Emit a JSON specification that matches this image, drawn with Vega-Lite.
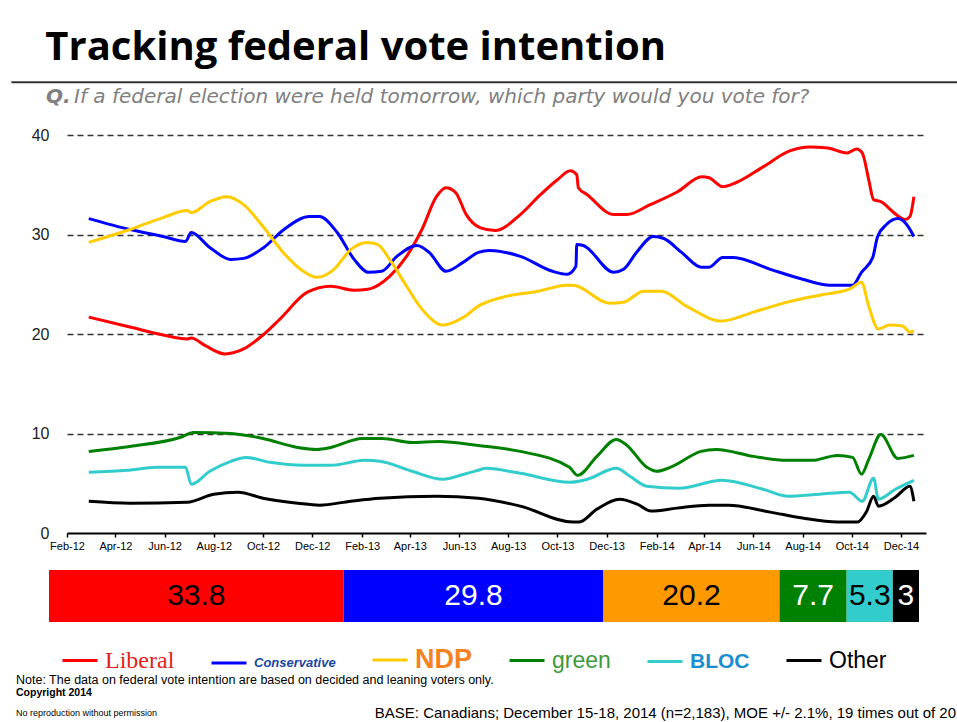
{
  "$schema": "https://vega.github.io/schema/vega-lite/v6.json",
  "background": "white",
  "padding": {"left": 10, "top": 28, "right": 0, "bottom": 0},
  "title": {"text": "Tracking federal vote intention", "anchor": "start", "font": "Open Sans", "fontSize": 40, "fontWeight": "bold", "color": "#000000", "dx": 35, "offset": 13},
  "spacing": 19,
  "resolve": {"scale": {"color": "independent"}, "legend": {"color": "independent"}},
  "config": {"view": {"stroke": null}, "font": "Liberation Sans"},
  "datasets": {
    "lines": [
      {"d":"2012-02-28","p":"Liberal","v":21.7},{"d":"2012-04-19","p":"Liberal","v":20.7},{"d":"2012-05-30","p":"Liberal","v":19.9},{"d":"2012-06-29","p":"Liberal","v":19.5},{"d":"2012-07-04","p":"Liberal","v":19.6},{"d":"2012-07-22","p":"Liberal","v":18.8},{"d":"2012-08-15","p":"Liberal","v":18.0},{"d":"2012-09-07","p":"Liberal","v":18.5},{"d":"2012-10-01","p":"Liberal","v":19.9},{"d":"2012-10-22","p":"Liberal","v":21.5},{"d":"2012-11-25","p":"Liberal","v":24.2},{"d":"2012-12-24","p":"Liberal","v":24.8},{"d":"2013-01-22","p":"Liberal","v":24.4},{"d":"2013-02-08","p":"Liberal","v":24.5},{"d":"2013-03-07","p":"Liberal","v":25.8},{"d":"2013-03-28","p":"Liberal","v":27.8},{"d":"2013-04-16","p":"Liberal","v":30.5},{"d":"2013-05-04","p":"Liberal","v":33.8},{"d":"2013-05-16","p":"Liberal","v":34.7},{"d":"2013-05-28","p":"Liberal","v":34.2},{"d":"2013-06-10","p":"Liberal","v":32.0},{"d":"2013-06-27","p":"Liberal","v":30.7},{"d":"2013-07-16","p":"Liberal","v":30.4},{"d":"2013-08-16","p":"Liberal","v":32.0},{"d":"2013-09-10","p":"Liberal","v":34.0},{"d":"2013-10-01","p":"Liberal","v":35.5},{"d":"2013-10-17","p":"Liberal","v":36.4},{"d":"2013-10-25","p":"Liberal","v":36.0},{"d":"2013-10-27","p":"Liberal","v":34.7},{"d":"2013-11-07","p":"Liberal","v":34.0},{"d":"2013-12-10","p":"Liberal","v":32.0},{"d":"2013-12-26","p":"Liberal","v":32.0},{"d":"2014-01-24","p":"Liberal","v":33.0},{"d":"2014-02-27","p":"Liberal","v":34.3},{"d":"2014-03-29","p":"Liberal","v":35.8},{"d":"2014-04-07","p":"Liberal","v":35.7},{"d":"2014-04-24","p":"Liberal","v":34.8},{"d":"2014-05-10","p":"Liberal","v":35.2},{"d":"2014-06-13","p":"Liberal","v":36.8},{"d":"2014-07-16","p":"Liberal","v":38.4},{"d":"2014-08-10","p":"Liberal","v":38.8},{"d":"2014-09-01","p":"Liberal","v":38.7},{"d":"2014-09-25","p":"Liberal","v":38.2},{"d":"2014-10-07","p":"Liberal","v":38.6},{"d":"2014-10-14","p":"Liberal","v":38.2},{"d":"2014-10-22","p":"Liberal","v":35.5},{"d":"2014-10-28","p":"Liberal","v":33.5},{"d":"2014-11-06","p":"Liberal","v":33.3},{"d":"2014-11-25","p":"Liberal","v":32.0},{"d":"2014-12-06","p":"Liberal","v":31.5},{"d":"2014-12-12","p":"Liberal","v":31.8},{"d":"2014-12-17","p":"Liberal","v":33.8},
      {"d":"2012-02-28","p":"Conservative","v":31.6},{"d":"2012-04-19","p":"Conservative","v":30.5},{"d":"2012-05-30","p":"Conservative","v":29.8},{"d":"2012-06-27","p":"Conservative","v":29.3},{"d":"2012-07-04","p":"Conservative","v":30.2},{"d":"2012-07-27","p":"Conservative","v":28.7},{"d":"2012-08-22","p":"Conservative","v":27.5},{"d":"2012-09-07","p":"Conservative","v":27.6},{"d":"2012-10-02","p":"Conservative","v":28.7},{"d":"2012-10-27","p":"Conservative","v":30.5},{"d":"2012-11-28","p":"Conservative","v":31.8},{"d":"2012-12-10","p":"Conservative","v":31.8},{"d":"2013-01-01","p":"Conservative","v":30.2},{"d":"2013-01-22","p":"Conservative","v":27.5},{"d":"2013-02-09","p":"Conservative","v":26.2},{"d":"2013-02-25","p":"Conservative","v":26.3},{"d":"2013-03-16","p":"Conservative","v":27.8},{"d":"2013-04-10","p":"Conservative","v":28.9},{"d":"2013-04-25","p":"Conservative","v":28.2},{"d":"2013-05-16","p":"Conservative","v":26.3},{"d":"2013-06-06","p":"Conservative","v":27.2},{"d":"2013-06-25","p":"Conservative","v":28.2},{"d":"2013-07-09","p":"Conservative","v":28.4},{"d":"2013-08-16","p":"Conservative","v":27.8},{"d":"2013-09-25","p":"Conservative","v":26.3},{"d":"2013-10-13","p":"Conservative","v":26.0},{"d":"2013-10-24","p":"Conservative","v":26.8},{"d":"2013-10-25","p":"Conservative","v":29.0},{"d":"2013-11-02","p":"Conservative","v":28.9},{"d":"2013-12-10","p":"Conservative","v":26.2},{"d":"2013-12-22","p":"Conservative","v":26.5},{"d":"2014-01-08","p":"Conservative","v":28.3},{"d":"2014-01-28","p":"Conservative","v":29.8},{"d":"2014-02-10","p":"Conservative","v":29.6},{"d":"2014-03-04","p":"Conservative","v":28.2},{"d":"2014-03-29","p":"Conservative","v":26.7},{"d":"2014-04-07","p":"Conservative","v":26.7},{"d":"2014-04-24","p":"Conservative","v":27.7},{"d":"2014-05-07","p":"Conservative","v":27.7},{"d":"2014-06-22","p":"Conservative","v":26.5},{"d":"2014-08-01","p":"Conservative","v":25.5},{"d":"2014-09-04","p":"Conservative","v":24.9},{"d":"2014-10-02","p":"Conservative","v":24.9},{"d":"2014-10-13","p":"Conservative","v":26.2},{"d":"2014-10-27","p":"Conservative","v":27.7},{"d":"2014-11-02","p":"Conservative","v":29.8},{"d":"2014-11-13","p":"Conservative","v":31.0},{"d":"2014-11-27","p":"Conservative","v":31.6},{"d":"2014-12-08","p":"Conservative","v":31.0},{"d":"2014-12-17","p":"Conservative","v":29.8},
      {"d":"2012-02-28","p":"NDP","v":29.2},{"d":"2012-04-19","p":"NDP","v":30.5},{"d":"2012-05-30","p":"NDP","v":31.7},{"d":"2012-06-29","p":"NDP","v":32.4},{"d":"2012-07-04","p":"NDP","v":32.2},{"d":"2012-07-27","p":"NDP","v":33.3},{"d":"2012-08-17","p":"NDP","v":33.8},{"d":"2012-09-07","p":"NDP","v":33.0},{"d":"2012-10-01","p":"NDP","v":30.8},{"d":"2012-10-26","p":"NDP","v":28.2},{"d":"2012-11-20","p":"NDP","v":26.3},{"d":"2012-12-07","p":"NDP","v":25.7},{"d":"2012-12-28","p":"NDP","v":26.5},{"d":"2013-01-18","p":"NDP","v":28.5},{"d":"2013-02-07","p":"NDP","v":29.2},{"d":"2013-02-20","p":"NDP","v":29.0},{"d":"2013-03-07","p":"NDP","v":27.5},{"d":"2013-03-28","p":"NDP","v":24.8},{"d":"2013-04-16","p":"NDP","v":22.5},{"d":"2013-05-12","p":"NDP","v":20.9},{"d":"2013-06-07","p":"NDP","v":21.7},{"d":"2013-06-25","p":"NDP","v":22.8},{"d":"2013-07-25","p":"NDP","v":23.7},{"d":"2013-09-07","p":"NDP","v":24.3},{"d":"2013-10-13","p":"NDP","v":24.9},{"d":"2013-10-20","p":"NDP","v":24.9},{"d":"2013-12-05","p":"NDP","v":23.1},{"d":"2013-12-22","p":"NDP","v":23.2},{"d":"2014-01-16","p":"NDP","v":24.3},{"d":"2014-02-07","p":"NDP","v":24.3},{"d":"2014-03-10","p":"NDP","v":22.8},{"d":"2014-04-23","p":"NDP","v":21.3},{"d":"2014-06-01","p":"NDP","v":22.2},{"d":"2014-07-13","p":"NDP","v":23.2},{"d":"2014-08-22","p":"NDP","v":23.9},{"d":"2014-09-28","p":"NDP","v":24.5},{"d":"2014-10-13","p":"NDP","v":25.2},{"d":"2014-10-22","p":"NDP","v":22.8},{"d":"2014-11-03","p":"NDP","v":20.5},{"d":"2014-11-17","p":"NDP","v":20.9},{"d":"2014-12-03","p":"NDP","v":20.8},{"d":"2014-12-12","p":"NDP","v":20.2},{"d":"2014-12-17","p":"NDP","v":20.3},
      {"d":"2012-02-28","p":"Green","v":8.2},{"d":"2012-04-19","p":"Green","v":8.7},{"d":"2012-06-20","p":"Green","v":9.6},{"d":"2012-07-07","p":"Green","v":10.1},{"d":"2012-08-22","p":"Green","v":10.0},{"d":"2012-10-01","p":"Green","v":9.5},{"d":"2012-11-13","p":"Green","v":8.6},{"d":"2012-12-07","p":"Green","v":8.4},{"d":"2012-12-24","p":"Green","v":8.6},{"d":"2013-02-01","p":"Green","v":9.5},{"d":"2013-02-26","p":"Green","v":9.5},{"d":"2013-04-04","p":"Green","v":9.1},{"d":"2013-05-07","p":"Green","v":9.2},{"d":"2013-06-25","p":"Green","v":8.8},{"d":"2013-08-16","p":"Green","v":8.2},{"d":"2013-10-16","p":"Green","v":6.6},{"d":"2013-10-26","p":"Green","v":5.8},{"d":"2013-11-19","p":"Green","v":7.7},{"d":"2013-12-13","p":"Green","v":9.4},{"d":"2013-12-25","p":"Green","v":8.9},{"d":"2014-01-20","p":"Green","v":6.6},{"d":"2014-02-01","p":"Green","v":6.2},{"d":"2014-02-18","p":"Green","v":6.6},{"d":"2014-03-28","p":"Green","v":8.2},{"d":"2014-04-16","p":"Green","v":8.4},{"d":"2014-06-01","p":"Green","v":7.7},{"d":"2014-07-13","p":"Green","v":7.3},{"d":"2014-08-13","p":"Green","v":7.3},{"d":"2014-09-13","p":"Green","v":7.8},{"d":"2014-10-02","p":"Green","v":7.6},{"d":"2014-10-13","p":"Green","v":5.9},{"d":"2014-10-22","p":"Green","v":7.4},{"d":"2014-11-06","p":"Green","v":9.9},{"d":"2014-11-27","p":"Green","v":7.5},{"d":"2014-12-17","p":"Green","v":7.8},
      {"d":"2012-02-28","p":"Bloc Québécois","v":6.1},{"d":"2012-04-16","p":"Bloc Québécois","v":6.3},{"d":"2012-05-22","p":"Bloc Québécois","v":6.6},{"d":"2012-06-27","p":"Bloc Québécois","v":6.6},{"d":"2012-07-04","p":"Bloc Québécois","v":4.9},{"d":"2012-07-27","p":"Bloc Québécois","v":6.2},{"d":"2012-08-22","p":"Bloc Québécois","v":7.2},{"d":"2012-09-10","p":"Bloc Québécois","v":7.6},{"d":"2012-10-10","p":"Bloc Québécois","v":7.1},{"d":"2012-11-20","p":"Bloc Québécois","v":6.8},{"d":"2012-12-24","p":"Bloc Québécois","v":6.8},{"d":"2013-02-04","p":"Bloc Québécois","v":7.3},{"d":"2013-02-23","p":"Bloc Québécois","v":7.2},{"d":"2013-04-04","p":"Bloc Québécois","v":6.2},{"d":"2013-05-12","p":"Bloc Québécois","v":5.4},{"d":"2013-06-07","p":"Bloc Québécois","v":5.9},{"d":"2013-06-25","p":"Bloc Québécois","v":6.3},{"d":"2013-07-04","p":"Bloc Québécois","v":6.5},{"d":"2013-08-16","p":"Bloc Québécois","v":6.0},{"d":"2013-10-16","p":"Bloc Québécois","v":5.1},{"d":"2013-11-07","p":"Bloc Québécois","v":5.4},{"d":"2013-12-13","p":"Bloc Québécois","v":6.5},{"d":"2013-12-30","p":"Bloc Québécois","v":5.7},{"d":"2014-01-20","p":"Bloc Québécois","v":4.7},{"d":"2014-03-01","p":"Bloc Québécois","v":4.5},{"d":"2014-04-23","p":"Bloc Québécois","v":5.3},{"d":"2014-06-13","p":"Bloc Québécois","v":4.4},{"d":"2014-07-13","p":"Bloc Québécois","v":3.7},{"d":"2014-08-22","p":"Bloc Québécois","v":3.9},{"d":"2014-09-28","p":"Bloc Québécois","v":4.1},{"d":"2014-10-14","p":"Bloc Québécois","v":3.2},{"d":"2014-10-28","p":"Bloc Québécois","v":5.5},{"d":"2014-11-03","p":"Bloc Québécois","v":3.4},{"d":"2014-11-24","p":"Bloc Québécois","v":4.4},{"d":"2014-12-17","p":"Bloc Québécois","v":5.3},
      {"d":"2012-02-28","p":"Other","v":3.2},{"d":"2012-04-19","p":"Other","v":3.0},{"d":"2012-06-29","p":"Other","v":3.1},{"d":"2012-08-01","p":"Other","v":3.9},{"d":"2012-08-31","p":"Other","v":4.1},{"d":"2012-10-01","p":"Other","v":3.5},{"d":"2012-11-13","p":"Other","v":3.0},{"d":"2012-12-10","p":"Other","v":2.8},{"d":"2013-01-18","p":"Other","v":3.2},{"d":"2013-02-23","p":"Other","v":3.5},{"d":"2013-05-04","p":"Other","v":3.7},{"d":"2013-06-25","p":"Other","v":3.5},{"d":"2013-08-16","p":"Other","v":2.7},{"d":"2013-10-20","p":"Other","v":1.1},{"d":"2013-10-28","p":"Other","v":1.1},{"d":"2013-11-19","p":"Other","v":2.4},{"d":"2013-12-17","p":"Other","v":3.4},{"d":"2014-01-08","p":"Other","v":2.9},{"d":"2014-01-25","p":"Other","v":2.2},{"d":"2014-02-26","p":"Other","v":2.5},{"d":"2014-04-07","p":"Other","v":2.8},{"d":"2014-05-01","p":"Other","v":2.8},{"d":"2014-06-22","p":"Other","v":2.1},{"d":"2014-08-01","p":"Other","v":1.5},{"d":"2014-09-13","p":"Other","v":1.1},{"d":"2014-10-08","p":"Other","v":1.1},{"d":"2014-10-19","p":"Other","v":2.1},{"d":"2014-10-28","p":"Other","v":3.7},{"d":"2014-11-03","p":"Other","v":2.7},{"d":"2014-11-24","p":"Other","v":3.6},{"d":"2014-12-12","p":"Other","v":4.7},{"d":"2014-12-17","p":"Other","v":3.2}
    ],
    "share": [
      {"p":"Liberal","v":33.8,"i":1},{"p":"Conservative","v":29.8,"i":2},{"p":"NDP","v":20.2,"i":3},{"p":"Green","v":7.7,"i":4},{"p":"Bloc Québécois","v":5.3,"i":5},{"p":"Other","v":3,"i":6}
    ],
    "parties": [
      {"p":"Liberal"},{"p":"Conservative"},{"p":"NDP"},{"p":"Green"},{"p":"Bloc Québécois"},{"p":"Other"}
    ],
    "notes": [
      {"row":"a","col":"L","t":"Note: The data on federal vote intention are based on decided and leaning voters only."},
      {"row":"b","col":"L","t":"Copyright 2014"},
      {"row":"d","col":"L","t":"No reproduction without permission"},
      {"row":"d","col":"R","t":"BASE: Canadians; December 15-18, 2014 (n=2,183), MOE +/- 2.1%, 19 times out of 20"}
    ]
  },
  "vconcat": [
    {
      "width": 859,
      "height": 398,
      "layer": [
        {
          "data": {"name": "lines"},
          "mark": {"type": "line", "interpolate": "monotone", "strokeWidth": 3},
          "encoding": {
            "x": {
              "field": "d", "type": "temporal",
              "scale": {"domain": [{"year": 2012, "month": 2, "date": 1}, {"year": 2015, "month": 1, "date": 1}], "nice": false},
              "axis": {
                "values": [
                  {"year": 2012, "month": 2, "date": 1}, {"year": 2012, "month": 4, "date": 1}, {"year": 2012, "month": 6, "date": 1}, {"year": 2012, "month": 8, "date": 1}, {"year": 2012, "month": 10, "date": 1}, {"year": 2012, "month": 12, "date": 1},
                  {"year": 2013, "month": 2, "date": 1}, {"year": 2013, "month": 4, "date": 1}, {"year": 2013, "month": 6, "date": 1}, {"year": 2013, "month": 8, "date": 1}, {"year": 2013, "month": 10, "date": 1}, {"year": 2013, "month": 12, "date": 1},
                  {"year": 2014, "month": 2, "date": 1}, {"year": 2014, "month": 4, "date": 1}, {"year": 2014, "month": 6, "date": 1}, {"year": 2014, "month": 8, "date": 1}, {"year": 2014, "month": 10, "date": 1}, {"year": 2014, "month": 12, "date": 1}
                ],
                "format": "%b-%y", "grid": false, "title": null,
                "domainColor": "#000000", "domainWidth": 2,
                "tickColor": "#000000", "tickSize": 4, "tickWidth": 1.5,
                "labelFont": "Liberation Sans", "labelFontSize": 11, "labelColor": "#000000", "labelPadding": 3,
                "labelOverlap": false, "labelFlush": false
              }
            },
            "y": {
              "field": "v", "type": "quantitative",
              "scale": {"domain": [0, 40], "nice": false},
              "axis": {
                "values": [0, 10, 20, 30, 40], "title": null, "domain": false, "ticks": false,
                "grid": true, "gridDash": [6, 4], "gridColor": "#333333", "gridWidth": 1.5,
                "gridOpacity": {"condition": {"test": "datum.value === 0", "value": 0}, "value": 1},
                "labelFont": "Liberation Sans", "labelFontSize": 16, "labelColor": "#222222", "labelPadding": 18
              }
            },
            "color": {
              "field": "p", "type": "nominal",
              "scale": {"domain": ["Liberal", "Conservative", "NDP", "Green", "Bloc Québécois", "Other"], "range": ["#FF0000", "#0000FF", "#FFCC00", "#008000", "#33CCCC", "#000000"]},
              "legend": null
            }
          }
        },
        {
          "data": {"values": [{}]},
          "mark": {"type": "rule", "color": "#333333", "strokeWidth": 2},
          "encoding": {
            "x": {"datum": {"year": 2011, "month": 11, "date": 24}, "type": "temporal"},
            "x2": {"datum": {"year": 2015, "month": 2, "date": 9}},
            "y": {"datum": 45.3, "type": "quantitative"}
          }
        },
        {
          "data": {"values": [{}]},
          "mark": {"type": "text", "text": "Q.", "align": "left", "baseline": "alphabetic", "font": "DejaVu Sans", "fontStyle": "italic", "fontWeight": "bold", "fontSize": 20, "color": "#808080"},
          "encoding": {
            "x": {"datum": {"year": 2012, "month": 1, "date": 6}, "type": "temporal"},
            "y": {"datum": 43.2, "type": "quantitative"}
          }
        },
        {
          "data": {"values": [{}]},
          "mark": {"type": "text", "text": "If a federal election were held tomorrow, which party would you vote for?", "align": "left", "baseline": "alphabetic", "font": "DejaVu Sans", "fontStyle": "italic", "fontSize": 20, "color": "#808080", "dx": 28},
          "encoding": {
            "x": {"datum": {"year": 2012, "month": 1, "date": 6}, "type": "temporal"},
            "y": {"datum": 43.2, "type": "quantitative"}
          }
        }
      ]
    },
    {
      "width": 852,
      "height": 52,
      "data": {"name": "share"},
      "encoding": {
        "y": {"datum": "share", "type": "nominal", "scale": {"paddingInner": 0, "paddingOuter": 0}, "axis": null},
        "order": {"field": "i", "type": "quantitative"},
        "detail": {"field": "p", "type": "nominal"}
      },
      "layer": [
        {
          "mark": {"type": "bar"},
          "encoding": {
            "x": {"field": "v", "type": "quantitative", "stack": "zero", "scale": {"domain": [2.065, 99.8], "nice": false, "zero": false}, "axis": null},
            "color": {
              "field": "p", "type": "nominal",
              "scale": {"domain": ["Liberal", "Conservative", "NDP", "Green", "Bloc Québécois", "Other"], "range": ["#FF0000", "#0000FF", "#FF9900", "#008000", "#33CCCC", "#000000"]},
              "legend": null
            }
          }
        },
        {
          "mark": {"type": "text", "font": "Liberation Sans", "fontSize": 30, "baseline": "middle", "align": "center"},
          "encoding": {
            "x": {"field": "v", "type": "quantitative", "stack": "zero", "bandPosition": 0.5, "scale": {"domain": [2.065, 99.8], "nice": false, "zero": false}, "axis": null},
            "text": {"field": "v", "type": "quantitative", "format": ".1~f"},
            "color": {"condition": {"test": "datum.p === 'Conservative' || datum.p === 'Green' || datum.p === 'Other'", "value": "#FFFFFF"}, "value": "#000000"}
          }
        }
      ]
    },
    {
      "width": 940,
      "height": 39,
      "layer": [
        {
          "data": {"name": "parties"},
          "mark": {"type": "line", "strokeWidth": 3},
          "encoding": {
            "color": {
              "field": "p", "type": "nominal",
              "scale": {"domain": ["Liberal", "Conservative", "NDP", "Green", "Bloc Québécois", "Other"], "range": ["#FF0000", "#0000FF", "#FFCC00", "#008000", "#33CCCC", "#000000"]},
              "legend": {
                "orient": "none", "legendX": -6, "legendY": -36, "direction": "horizontal", "title": null,
                "symbolType": "stroke", "symbolSize": 1225, "symbolStrokeWidth": 3, "symbolOpacity": 1,
                "labelOffset": 6, "columnPadding": 30, "padding": 0, "labelBaseline": "middle",
                "labelFont": "Liberation Sans", "labelFontSize": 23, "labelLimit": 300,
                "labelExpr": "datum.label === 'Green' ? 'green' : datum.label === 'Bloc Québécois' ? 'BLOC' : datum.label",
                "encoding": {
                  "labels": {
                    "fill": {"condition": [
                      {"test": "datum.value === 'Liberal'", "value": "#E2231A"},
                      {"test": "datum.value === 'Conservative'", "value": "#1A46A0"},
                      {"test": "datum.value === 'NDP'", "value": "#F58220"},
                      {"test": "datum.value === 'Green'", "value": "#3D9A3D"},
                      {"test": "datum.value === 'Bloc Québécois'", "value": "#1B8ED0"}
                    ], "value": "#000000"},
                    "fontSize": {"condition": [
                      {"test": "datum.value === 'Liberal'", "value": 24},
                      {"test": "datum.value === 'Conservative'", "value": 13},
                      {"test": "datum.value === 'NDP'", "value": 27},
                      {"test": "datum.value === 'Bloc Québécois'", "value": 21}
                    ], "value": 23},
                    "font": {"condition": [
                      {"test": "datum.value === 'Liberal'", "value": "Liberation Serif"}
                    ], "value": "Liberation Sans"},
                    "fontWeight": {"condition": [
                      {"test": "datum.value === 'NDP' || datum.value === 'Bloc Québécois' || datum.value === 'Conservative'", "value": "bold"}
                    ], "value": "normal"},
                    "fontStyle": {"condition": [
                      {"test": "datum.value === 'Conservative'", "value": "italic"}
                    ], "value": "normal"}
                  }
                }
              }
            }
          }
        },
        {
          "data": {"name": "notes"},
          "transform": [{"filter": "datum.row === 'a'"}],
          "mark": {"type": "text", "align": "left", "baseline": "middle", "fontSize": 12.5, "font": "Liberation Sans", "color": "#000000"},
          "encoding": {
            "x": {"field": "col", "type": "nominal", "scale": {"type": "point", "domain": ["L", "R"], "range": [-51, 889], "padding": 0}, "axis": null},
            "y": {"field": "row", "type": "nominal", "scale": {"type": "point", "domain": ["a", "x1", "b", "x2", "x3", "d"], "padding": 0.5}, "axis": null},
            "text": {"field": "t"}
          }
        },
        {
          "data": {"name": "notes"},
          "transform": [{"filter": "datum.row === 'b'"}],
          "mark": {"type": "text", "align": "left", "baseline": "middle", "fontSize": 10.5, "fontWeight": "bold", "font": "Liberation Sans", "color": "#000000"},
          "encoding": {
            "x": {"field": "col", "type": "nominal", "scale": {"type": "point", "domain": ["L", "R"], "range": [-51, 889], "padding": 0}, "axis": null},
            "y": {"field": "row", "type": "nominal", "scale": {"type": "point", "domain": ["a", "x1", "b", "x2", "x3", "d"], "padding": 0.5}, "axis": null},
            "text": {"field": "t"}
          }
        },
        {
          "data": {"name": "notes"},
          "transform": [{"filter": "datum.row === 'd' && datum.col === 'L'"}],
          "mark": {"type": "text", "align": "left", "baseline": "middle", "fontSize": 9, "font": "Liberation Sans", "color": "#000000"},
          "encoding": {
            "x": {"field": "col", "type": "nominal", "scale": {"type": "point", "domain": ["L", "R"], "range": [-51, 889], "padding": 0}, "axis": null},
            "y": {"field": "row", "type": "nominal", "scale": {"type": "point", "domain": ["a", "x1", "b", "x2", "x3", "d"], "padding": 0.5}, "axis": null},
            "text": {"field": "t"}
          }
        },
        {
          "data": {"name": "notes"},
          "transform": [{"filter": "datum.row === 'd' && datum.col === 'R'"}],
          "mark": {"type": "text", "align": "right", "baseline": "middle", "fontSize": 15, "font": "Liberation Sans", "color": "#000000"},
          "encoding": {
            "x": {"field": "col", "type": "nominal", "scale": {"type": "point", "domain": ["L", "R"], "range": [-51, 889], "padding": 0}, "axis": null},
            "y": {"field": "row", "type": "nominal", "scale": {"type": "point", "domain": ["a", "x1", "b", "x2", "x3", "d"], "padding": 0.5}, "axis": null},
            "text": {"field": "t"}
          }
        }
      ]
    }
  ]
}
